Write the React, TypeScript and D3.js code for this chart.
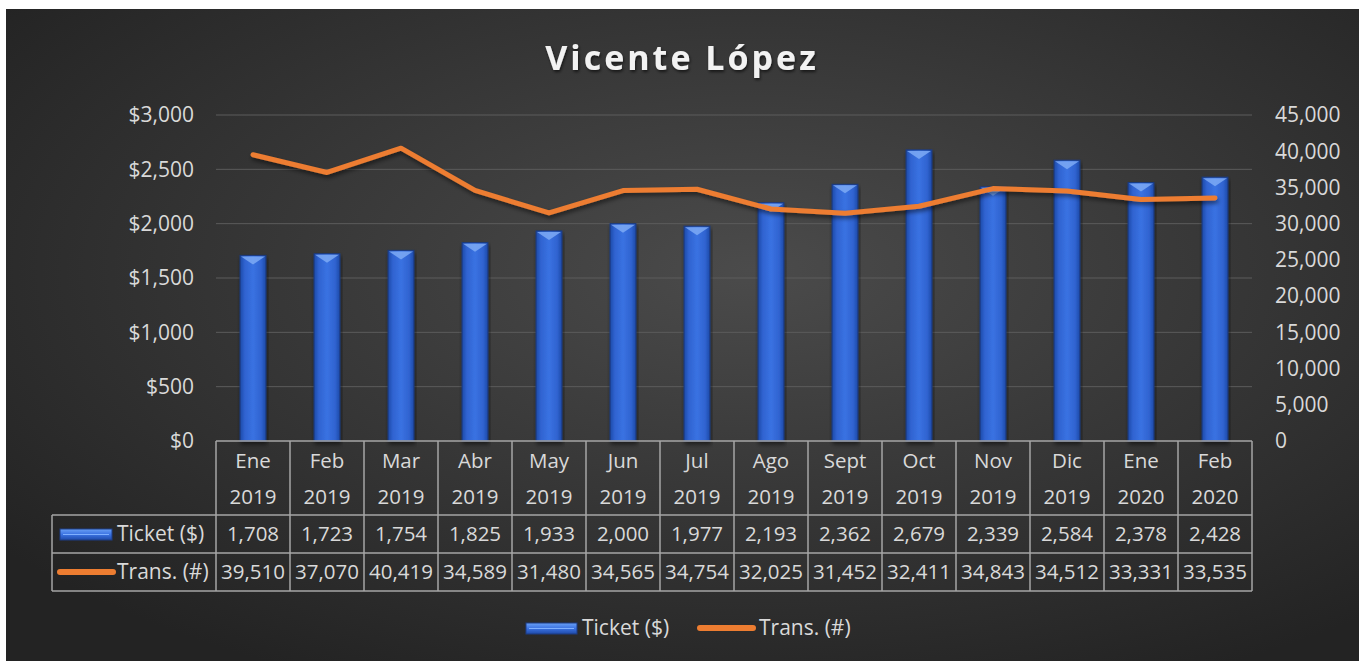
import React from 'react';
import * as d3 from 'd3';

const months = ['Ene', 'Feb', 'Mar', 'Abr', 'May', 'Jun', 'Jul', 'Ago', 'Sept', 'Oct', 'Nov', 'Dic', 'Ene', 'Feb'];
const years = ['2019', '2019', '2019', '2019', '2019', '2019', '2019', '2019', '2019', '2019', '2019', '2019', '2020', '2020'];
const ticket = [1708, 1723, 1754, 1825, 1933, 2000, 1977, 2193, 2362, 2679, 2339, 2584, 2378, 2428];
const trans = [39510, 37070, 40419, 34589, 31480, 34565, 34754, 32025, 31452, 32411, 34843, 34512, 33331, 33535];
const leftTicks = [0, 500, 1000, 1500, 2000, 2500, 3000];
const rightTicks = [0, 5000, 10000, 15000, 20000, 25000, 30000, 35000, 40000, 45000];

const W = 1364;
const H = 661;
const FONT = '"Open Sans", "Noto Sans", sans-serif';
const TXT = '#d9d9d9';

const App = () => {
  const plotLeft = 216;
  const plotRight = 1252;
  const plotTop = 115;
  const plotBottom = 441;

  const idx = months.map((_, i) => i);
  const x = d3.scaleBand<number>().domain(idx).range([plotLeft, plotRight]).padding(0);
  const yL = d3.scaleLinear().domain([0, 3000]).range([plotBottom, plotTop]);
  const yR = d3.scaleLinear().domain([0, 45000]).range([plotBottom, plotTop]);
  const bw = x.bandwidth() * 0.35;
  const cx = (i: number) => (x(i) as number) + x.bandwidth() / 2;

  const line = d3
    .line<number>()
    .x((_, i) => cx(i))
    .y((d) => yR(d));

  const fmt = d3.format(',');

  // table rows
  const rowY = [plotBottom, 515, 553, 591];
  const tableLeft = 52;

  const barIcon = (x0: number, y0: number, w: number, h: number) => (
    <g>
      <rect x={x0} y={y0} width={w} height={h} fill="url(#barLegend)" stroke="#1d3c85" strokeWidth={1} />
      <line x1={x0 + 3} x2={x0 + w - 3} y1={y0 + h / 2} y2={y0 + h / 2} stroke="#7fb0ff" strokeWidth={1} />
    </g>
  );

  return (
    <svg width={W} height={H} style={{ position: 'absolute', left: 0, top: 0 }} fontFamily={FONT}>
      <defs>
        <radialGradient id="bg" cx="55%" cy="40%" r="70%">
          <stop offset="0%" stopColor="#4b4b4b" />
          <stop offset="100%" stopColor="#232323" />
        </radialGradient>
        <linearGradient id="barGrad" x1="0" x2="1" y1="0" y2="0">
          <stop offset="0%" stopColor="#1f4aa8" />
          <stop offset="18%" stopColor="#2f63d0" />
          <stop offset="50%" stopColor="#3a72e2" />
          <stop offset="82%" stopColor="#2f63d0" />
          <stop offset="100%" stopColor="#1f4aa8" />
        </linearGradient>
        <linearGradient id="barLegend" x1="0" x2="0" y1="0" y2="1">
          <stop offset="0%" stopColor="#6aa0f5" />
          <stop offset="50%" stopColor="#3a72e2" />
          <stop offset="100%" stopColor="#1f4aa8" />
        </linearGradient>
        <filter id="shadow" x="-10%" y="-10%" width="120%" height="140%">
          <feDropShadow dx="1" dy="3" stdDeviation="2" floodColor="#000" floodOpacity="0.5" />
        </filter>
        <filter id="tshadow" x="-10%" y="-20%" width="120%" height="160%">
          <feDropShadow dx="1" dy="2" stdDeviation="1.5" floodColor="#000" floodOpacity="0.6" />
        </filter>
      </defs>

      <rect x={0} y={0} width={W} height={H} fill="#fff" />
      <rect x={6} y={9} width={1353} height={652} fill="url(#bg)" />

      <text
        x={682}
        y={70}
        textAnchor="middle"
        fontSize={34}
        fontWeight="bold"
        letterSpacing={3}
        fill="#f2f2f2"
        filter="url(#tshadow)"
      >
        Vicente López
      </text>

      {/* gridlines */}
      {leftTicks.slice(1).map((t) => (
        <line key={t} x1={plotLeft} x2={plotRight} y1={yL(t)} y2={yL(t)} stroke="#5c5c5c" strokeWidth={1} />
      ))}

      {/* left axis labels */}
      {leftTicks.map((t) => (
        <text key={t} x={194} y={yL(t)} dy="0.35em" textAnchor="end" fontSize={21} fill={TXT}>
          {'$' + fmt(t)}
        </text>
      ))}

      {/* right axis labels */}
      {rightTicks.map((t) => (
        <text key={t} x={1275} y={yR(t)} dy="0.35em" textAnchor="start" fontSize={21} fill={TXT}>
          {fmt(t)}
        </text>
      ))}

      {/* bars */}
      {ticket.map((v, i) => {
        const bx = cx(i) - bw / 2;
        const by = yL(v);
        return (
          <g key={i} filter="url(#shadow)">
            <rect x={bx} y={by} width={bw} height={plotBottom - by} fill="url(#barGrad)" stroke="#1a3a80" strokeWidth={1} />
            <polygon
              points={`${bx + 1},${by + 1} ${bx + bw - 1},${by + 1} ${cx(i)},${by + 9}`}
              fill="#7eaaf5"
              opacity={0.85}
            />
          </g>
        );
      })}

      {/* line */}
      <path
        d={line(trans) || ''}
        fill="none"
        stroke="#ed7d31"
        strokeWidth={5}
        strokeLinecap="round"
        strokeLinejoin="round"
        filter="url(#shadow)"
      />

      {/* data table */}
      <g stroke="#a6a6a6" strokeWidth={1.5} fill="none">
        <line x1={plotLeft} x2={plotRight} y1={rowY[0]} y2={rowY[0]} />
        <line x1={tableLeft} x2={plotRight} y1={rowY[1]} y2={rowY[1]} />
        <line x1={tableLeft} x2={plotRight} y1={rowY[2]} y2={rowY[2]} />
        <line x1={tableLeft} x2={plotRight} y1={rowY[3]} y2={rowY[3]} />
        <line x1={tableLeft} x2={tableLeft} y1={rowY[1]} y2={rowY[3]} />
        {idx.map((i) => (
          <line key={i} x1={x(i) as number} x2={x(i) as number} y1={rowY[0]} y2={rowY[3]} />
        ))}
        <line x1={plotRight} x2={plotRight} y1={rowY[0]} y2={rowY[3]} />
      </g>

      {idx.map((i) => (
        <g key={i} fontSize={20.5} fill={TXT} textAnchor="middle">
          <text x={cx(i)} y={461} dy="0.35em">{months[i]}</text>
          <text x={cx(i)} y={497} dy="0.35em">{years[i]}</text>
          <text x={cx(i)} y={534} dy="0.35em">{fmt(ticket[i])}</text>
          <text x={cx(i)} y={572} dy="0.35em">{fmt(trans[i])}</text>
        </g>
      ))}

      {/* row headers */}
      {barIcon(60, 529, 52, 11)}
      <text x={117} y={534} dy="0.35em" fontSize={21} fill={TXT}>Ticket ($)</text>
      <line x1={60} x2={113} y1={572} y2={572} stroke="#ed7d31" strokeWidth={6} strokeLinecap="round" />
      <text x={117} y={572} dy="0.35em" fontSize={21} fill={TXT}>Trans. (#)</text>

      {/* legend */}
      {barIcon(526, 623, 51, 11)}
      <text x={582} y={628} dy="0.35em" fontSize={21} fill={TXT}>Ticket ($)</text>
      <line x1={700} x2={753} y1={628} y2={628} stroke="#ed7d31" strokeWidth={6} strokeLinecap="round" />
      <text x={759} y={628} dy="0.35em" fontSize={21} fill={TXT}>Trans. (#)</text>
    </svg>
  );
};

export default App;
